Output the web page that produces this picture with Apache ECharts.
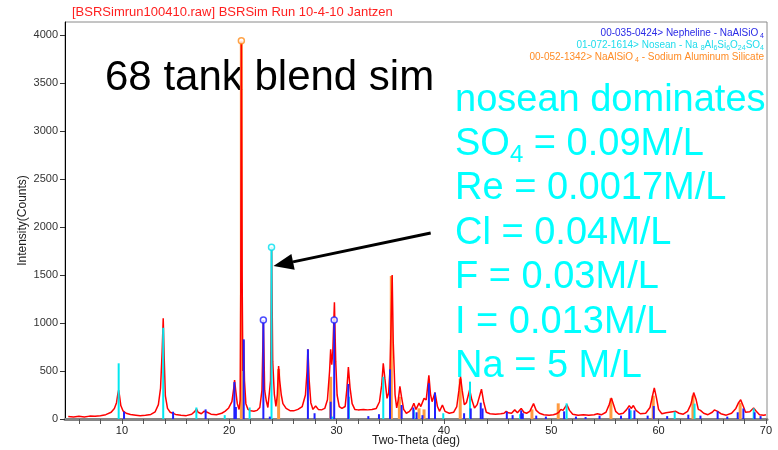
<!DOCTYPE html>
<html><head><meta charset="utf-8">
<script src="https://cdn.jsdelivr.net/npm/echarts@6/dist/echarts.min.js"></script>
<style>html,body{margin:0;padding:0;background:#fff}#c{width:778px;height:450px}</style>
</head><body><div id="c"></div>
<script>
// Measured scan (red trace)
const scanTheta = [5.0,5.5,6.0,6.5,7.0,7.5,8.0,8.5,9.0,9.3,9.5,9.62,9.7,9.78,9.9,10.1,10.4,10.8,11.3,11.7,12.2,12.7,13.1,13.4,13.6,13.75,13.85,13.95,14.05,14.25,14.5,15.0,15.5,16.0,16.5,16.8,16.95,17.1,17.4,17.65,17.8,17.95,18.3,18.8,19.3,19.6,19.95,20.25,20.42,20.5,20.6,20.75,20.92,21.02,21.08,21.13,21.2,21.27,21.35,21.42,21.55,21.75,22.0,22.3,22.6,22.85,23.05,23.18,23.3,23.45,23.6,23.75,23.85,23.95,24.05,24.2,24.35,24.48,24.6,24.7,24.85,25.0,25.3,25.7,26.0,26.4,26.8,27.1,27.25,27.33,27.45,27.6,27.8,28.05,28.3,28.6,28.9,29.15,29.35,29.45,29.55,29.65,29.8,29.92,30.05,30.25,30.5,30.8,30.95,31.1,31.25,31.45,31.7,32.0,32.5,32.9,33.3,33.7,34.0,34.2,34.35,34.5,34.7,34.85,34.98,35.08,35.18,35.28,35.45,35.6,35.75,35.9,36.05,36.25,36.5,36.8,37.0,37.2,37.4,37.68,37.85,38.15,38.35,38.6,38.75,38.9,39.17,39.4,39.6,39.86,40.1,40.5,40.9,41.2,41.4,41.55,41.7,41.9,42.1,42.4,42.6,42.85,43.1,43.35,43.5,43.7,43.95,44.3,44.8,45.3,45.6,45.8,46.0,46.3,46.6,46.85,47.2,47.45,47.7,48.0,48.35,48.6,48.9,49.3,49.8,50.2,50.5,50.7,50.9,51.1,51.45,51.7,52.0,52.5,53.0,53.5,54.0,54.3,54.7,55.1,55.4,55.6,55.8,56.0,56.3,56.7,57.0,57.27,57.45,57.65,57.9,58.3,58.8,59.2,59.45,59.6,59.8,60.0,60.3,60.7,61.0,61.3,61.6,61.9,62.3,62.7,63.0,63.27,63.5,63.7,63.9,64.2,64.6,65.0,65.2,65.5,65.8,66.3,66.8,67.2,67.45,67.65,67.9,68.1,68.5,68.85,69.1,69.4,69.8,70.0];
const scanCounts = [25,20,28,22,30,28,35,45,70,110,170,260,302,240,140,85,60,46,40,35,40,48,75,150,320,700,1050,600,240,110,70,48,40,35,50,80,105,70,55,80,100,70,50,45,60,80,115,180,320,405,300,160,100,200,1500,3930,1500,500,820,400,160,100,85,80,90,120,300,1030,300,190,120,130,400,1785,600,260,130,250,552,400,250,160,110,85,85,100,130,250,500,725,400,170,100,135,100,95,110,200,500,726,565,700,1215,600,250,130,110,130,300,540,330,160,100,95,100,95,100,110,180,350,580,420,215,270,520,1000,1500,800,250,115,200,340,230,100,60,80,110,165,100,165,130,215,200,455,260,180,275,130,80,146,80,60,70,130,300,440,300,150,170,305,200,115,150,250,310,180,70,55,50,55,60,80,65,60,95,65,110,70,60,80,160,90,60,45,40,45,55,70,100,90,150,90,50,40,45,40,45,55,45,70,150,220,150,80,50,60,95,140,110,140,90,55,60,120,250,325,220,100,55,65,70,75,80,60,50,80,150,275,200,100,90,60,45,70,95,80,55,40,60,110,170,200,130,70,75,115,80,45,40,45];
// Reference patterns (stick lines)
const nephTheta = [10.2,14.77,17.8,20.48,20.62,21.35,23.18,23.78,27.33,27.95,29.45,29.78,31.09,32.96,33.95,34.98,36.06,37.15,37.45,38.0,38.6,39.17,41.88,42.5,43.43,43.6,45.86,46.4,47.2,47.35,48.6,49.5,51.2,52.3,53.2,54.5,56.5,57.27,57.75,58.98,59.55,60.8,62.77,63.9,65.5,66.4,67.37,67.9,68.95,69.5];
const nephCounts = [76,76,100,385,125,830,1030,25,726,60,180,1030,365,30,50,517,146,120,70,40,372,275,60,110,170,110,76,40,90,60,35,25,80,25,20,35,35,111,90,35,135,30,45,35,80,25,70,110,70,30];
const noseanTheta = [9.7,13.85,16.94,19.58,21.9,23.94,29.6,31.15,34.35,37.2,39.94,42.43,47.1,51.43,57.4,61.5,63.35,68.86];
const noseanCounts = [580,950,120,40,120,1790,25,232,440,98,60,389,50,163,90,76,160,111];
const nasTheta = [21.13,24.6,29.45,35.1,35.85,37.68,38.15,41.52,48.2,50.65,55.56,59.5,63.2,67.6];
const nasCounts = [3940,520,440,1490,232,111,100,420,100,163,215,243,243,170];
const markerNeph = [[23.18,1030],[29.78,1030]];
const markerNosean = [[23.94,1790]];
const markerNas = [[21.13,3940]];
const xTickLabels = [10,20,30,40,50,60,70];
const xTickMarks = [6,8,10,12,14,16,18,20,22,24,26,28,30,32,34,36,38,40,42,44,46,48,50,52,54,56,58,60,62,64,66,68,70];
const yTickLabels = [0,500,1000,1500,2000,2500,3000,3500,4000];

const FONT = 'Liberation Sans, Arial, sans-serif';
const chart = echarts.init(document.getElementById('c'), null, {renderer:'canvas'});

function stickSeries(name, xs, ys, color, width, z) {
  return {
    type:'custom', name, z, silent:true, animation:false, clip:true,
    data: xs.map((x,i)=>[x, ys[i]]),
    encode:{x:0,y:1},
    renderItem(params, api){
      const p0 = api.coord([api.value(0), 0]);
      const p1 = api.coord([api.value(0), api.value(1)]);
      return {type:'line', shape:{x1:p0[0],y1:p0[1],x2:p1[0],y2:p1[1]}, style:{stroke:color, lineWidth:width}};
    }
  };
}
function markerSeries(data, color) {
  return {type:'scatter', data, symbol:'circle', symbolSize:6, z:10, silent:true, animation:false,
    itemStyle:{color:'#fff', borderColor:color, borderWidth:1.5}};
}

const option = {
  animation:false,
  grid:{left:65, right:11, top:22, bottom:31, show:true, borderColor:'#8a8a8a', borderWidth:1, backgroundColor:'transparent', containLabel:false, outerBoundsMode:'none'},
  xAxis:{type:'value', min:4.7, max:70.1,
    axisLine:{show:true, onZero:false, lineStyle:{color:'#858585', width:3}},
    axisTick:{show:true, customValues:xTickMarks, length:5, lineStyle:{color:'#555'}},
    axisLabel:{customValues:xTickLabels, color:'#222', fontSize:11, fontFamily:FONT, margin:6},
    splitLine:{show:false}, nameMoveOverlap:false,
    name:'Two-Theta (deg)', nameLocation:'middle', nameGap:16, nameTextStyle:{fontSize:12, color:'#222', fontFamily:FONT}},
  yAxis:{type:'value', min:0, max:4135,
    axisLine:{show:true, lineStyle:{color:'#000', width:1}},
    axisTick:{show:true, customValues:yTickLabels, length:5, lineStyle:{color:'#333'}},
    axisLabel:{customValues:yTickLabels, formatter:(v)=>String(v), color:'#333', fontSize:11, fontFamily:FONT, margin:7},
    splitLine:{show:false}, nameMoveOverlap:false,
    name:'Intensity(Counts)', nameLocation:'middle', nameGap:36, nameRotate:90, nameTextStyle:{fontSize:12, color:'#222', fontFamily:FONT}},
  series:[
    stickSeries('nas', nasTheta, nasCounts, '#ff9a40', 3, 2),
    {type:'line', data: scanTheta.map((x,i)=>[x, scanCounts[i]]), showSymbol:false, z:3, silent:true,
      lineStyle:{color:'#ff0000', width:1.5}},
    stickSeries('nosean', noseanTheta, noseanCounts, '#00e8f0', 2, 4),
    stickSeries('neph', nephTheta, nephCounts, '#2020ff', 2, 5),
    markerSeries(markerNas, '#ff8c1a'),
    markerSeries(markerNosean, '#00e0f0'),
    markerSeries(markerNeph, '#2020ff')
  ]
};
chart.setOption(option);

const bigStyle = {fill:'#00ffff', fontSize:38, fontFamily:FONT};
const subRich = {sub:{fontSize:24, fill:'#00ffff', fontFamily:FONT, verticalAlign:'bottom', lineHeight:44}, m:{fontSize:38, fill:'#00ffff', fontFamily:FONT, lineHeight:44}};
const legRich = (c)=>({s:{fontSize:7, fill:c, fontFamily:FONT, verticalAlign:'bottom', lineHeight:13}, m:{fontSize:10, fill:c, fontFamily:FONT, lineHeight:13}});

const tip = chart.convertToPixel({xAxisIndex:0, yAxisIndex:0}, [24.12, 1594]);
const tail = chart.convertToPixel({xAxisIndex:0, yAxisIndex:0}, [38.77, 1937]);
const ang = Math.atan2(tail[1]-tip[1], tail[0]-tip[0]);
const hl = 20, hw = 8;
const bx = tip[0] + Math.cos(ang)*hl, by = tip[1] + Math.sin(ang)*hl;
const nx = -Math.sin(ang), ny = Math.cos(ang);

chart.setOption({graphic:[
  {type:'text', left:72, top:6, style:{text:'[BSRSimrun100410.raw] BSRSim Run 10-4-10 Jantzen', fill:'#ff2020', fontSize:13, fontFamily:FONT}},
  {type:'text', x:764, y:33, style:{text:'00-035-0424> Nepheline - NaAlSiO{s| 4}', rich:legRich('#2a2ae6'), fill:'#2a2ae6', fontSize:10, fontFamily:FONT, align:'right', verticalAlign:'middle'}},
  {type:'text', x:764, y:45, style:{text:'01-072-1614> Nosean - Na {s|8}Al{s|6}Si{s|6}O{s|24}SO{s|4}', rich:legRich('#20dcec'), fill:'#20dcec', fontSize:10, fontFamily:FONT, align:'right', verticalAlign:'middle'}},
  {type:'text', x:764, y:57, style:{text:'00-052-1342> NaAlSiO{s| 4} - Sodium Aluminum Silicate', rich:legRich('#ff8c26'), fill:'#ff8c26', fontSize:10, fontFamily:FONT, align:'right', verticalAlign:'middle'}},
  {type:'text', x:105, y:78, style:{text:'68 tank blend sim', fill:'#000', fontSize:42, fontFamily:FONT, verticalAlign:'middle'}},
  {type:'text', x:455, y:101, style:Object.assign({text:'nosean dominates', verticalAlign:'middle'}, bigStyle)},
  {type:'text', x:455, y:145, style:Object.assign({text:'{m|SO}{sub|4}{m| = 0.09M/L}', rich:subRich, verticalAlign:'middle'}, bigStyle)},
  {type:'text', x:455, y:189, style:Object.assign({text:'Re = 0.0017M/L', verticalAlign:'middle'}, bigStyle)},
  {type:'text', x:455, y:234, style:Object.assign({text:'Cl = 0.04M/L', verticalAlign:'middle'}, bigStyle)},
  {type:'text', x:455, y:278, style:Object.assign({text:'F = 0.03M/L', verticalAlign:'middle'}, bigStyle)},
  {type:'text', x:455, y:323, style:Object.assign({text:'I = 0.013M/L', verticalAlign:'middle'}, bigStyle)},
  {type:'text', x:455, y:367, style:Object.assign({text:'Na = 5 M/L', verticalAlign:'middle'}, bigStyle)},
  {type:'line', shape:{x1:tail[0], y1:tail[1], x2:bx, y2:by}, style:{stroke:'#000', lineWidth:3}, z:20},
  {type:'polygon', shape:{points:[[tip[0],tip[1]],[bx+nx*hw, by+ny*hw],[bx-nx*hw, by-ny*hw]]}, style:{fill:'#000'}, z:20}
]});
</script></body></html>
